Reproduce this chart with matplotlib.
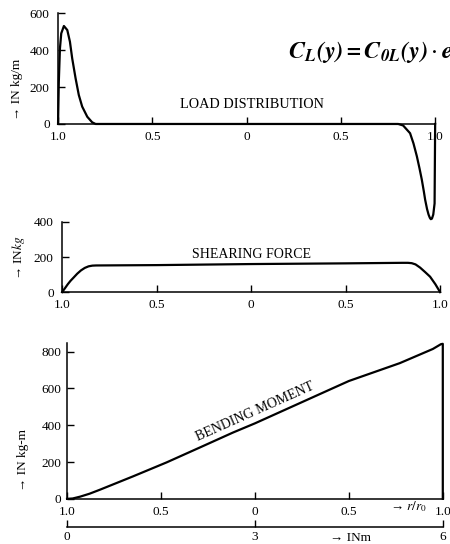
import matplotlib
matplotlib.use("Agg")
from matplotlib import pyplot as plt

plt.rcParams['font.family'] = ['Liberation Serif', 'DejaVu Serif']
plt.rcParams['mathtext.fontset'] = 'stix'

# spanwise position r/r0, from one tip (-1) to the other (+1)
xtick_pos = [-1.0, -0.5, 0.0, 0.5, 1.0]
xtick_labels = ['1.0', '0.5', '0', '0.5', '1.0']

# load distribution, kg/m
load_x = [-1.0, -0.996, -0.990, -0.983, -0.969, -0.951, -0.937, -0.925, -0.907, -0.890,
          -0.872, -0.845, -0.819, -0.801, -0.5, 0.0, 0.5, 0.804, 0.83, 0.867, 0.885,
          0.903, 0.917, 0.929, 0.94, 0.947, 0.957, 0.965, 0.972, 0.977, 0.983, 0.99,
          0.997, 1.0]
load_y = [0, 227, 408, 490, 530, 508, 445, 355, 247, 157,
          94, 39, 9, 0, 0, 0, 0, 0, -8, -50, -105,
          -175, -240, -300, -365, -410, -460, -490, -508, -515, -512, -490,
          -430, 0]

# shearing force, kg
shear_x = [-1.0, -0.985, -0.97, -0.955, -0.94, -0.92, -0.90, -0.88, -0.86, -0.84, -0.82,
           -0.5, 0.0, 0.5, 0.8, 0.83, 0.85, 0.87, 0.894, 0.92, 0.947, 0.975, 1.0]
shear_y = [0, 22, 45, 65, 82, 105, 124, 138, 147, 151, 152,
           154, 160, 164, 167, 167, 165, 158, 140, 115, 88, 45, 0]

# bending moment, kg-m
moment_x = [-1.0, -0.97, -0.93, -0.88, -0.824, -0.649, -0.47, -0.293, -0.117, 0.0, 0.415,
            0.5, 0.771, 0.947, 0.99, 1.0, 1.0]
moment_y = [0, 2, 12, 28, 50, 122, 198, 279, 360, 410, 601,
            640, 737, 814, 840, 842, 0]

# second scale under the moment plot, metres
span_ticks = [0, 3, 6]
span_labels = ['0', '3', '6']

LW = 1.6
FS = 9.5


def style_axes(ax, yticks):
    ax.patch.set_visible(False)
    ax.spines['top'].set_visible(False)
    ax.spines['right'].set_visible(False)
    ax.spines['left'].set_linewidth(1.1)
    ax.spines['bottom'].set_linewidth(1.1)
    ax.set_xlim(-1.0, 1.0)
    ax.set_xticks(xtick_pos)
    ax.set_xticklabels(xtick_labels)
    ax.set_yticks(yticks)
    ax.tick_params(axis='x', direction='in', length=5, width=1, pad=5, labelsize=FS)
    ax.tick_params(axis='y', direction='in', length=5, width=1, pad=6, labelsize=FS)


fig = plt.figure(figsize=(4.5, 5.44), dpi=100)

# load distribution
ax1 = fig.add_axes([0.129, 0.592, 0.838, 0.384])
ax1.plot(load_x, load_y, color='black', lw=LW, clip_on=False)
ax1.set_ylim(-530, 600)
style_axes(ax1, [0, 200, 400, 600])
ax1.spines['left'].set_bounds(0, 600)
ax1.spines['bottom'].set_position(('data', 0))
ax1.text(0.03, 108, 'LOAD DISTRIBUTION', ha='center', va='center', fontsize=10.3)
fig.text(0.038, 0.835, '→ IN kg/m', rotation=90, ha='center', va='center', fontsize=FS)
fig.text(0.64, 0.904, r'$\mathbfit{C_L(y)=C_{0L}(y)}\cdot\mathbfit{e}$', ha='left',
         va='center', fontsize=17.5)

# shearing force
ax2 = fig.add_axes([0.138, 0.463, 0.840, 0.129])
ax2.plot(shear_x, shear_y, color='black', lw=LW, clip_on=False)
ax2.set_ylim(0, 400)
style_axes(ax2, [0, 200, 400])
ax2.text(0.0, 215, 'SHEARING FORCE', ha='center', va='center', fontsize=10)
fig.text(0.042, 0.527, '→ IN$kg$', rotation=90, ha='center', va='center', fontsize=FS)

# bending moment
ax3 = fig.add_axes([0.149, 0.083, 0.835, 0.286])
ax3.plot(moment_x, moment_y, color='black', lw=LW, clip_on=False)
ax3.set_ylim(0, 845)
style_axes(ax3, [0, 200, 400, 600, 800])
ax3.tick_params(axis='y', pad=4)
ax3.text(0.0, 474, 'BENDING MOMENT', ha='center', va='center', rotation=24,
         rotation_mode='anchor', fontsize=10)
ax3.text(0.72, 0.0, '→ $r/r_0$', transform=ax3.transData, ha='left', va='top',
         fontsize=FS)
fig.text(0.052, 0.155, '→ IN kg-m', rotation=90, ha='center', va='center', fontsize=FS)

sec = ax3.secondary_xaxis(-0.178, functions=(lambda x: (x + 1) * 3, lambda x: x / 3 - 1))
sec.set_xticks(span_ticks)
sec.set_xticklabels(span_labels)
sec.spines['bottom'].set_linewidth(1.1)
sec.tick_params(direction='in', length=5, width=1, pad=3, labelsize=FS)
ax3.text(0.70, -0.215, '→ INm', transform=ax3.transAxes, ha='left', va='top', fontsize=FS)

fig.savefig('out.png', dpi=100)
